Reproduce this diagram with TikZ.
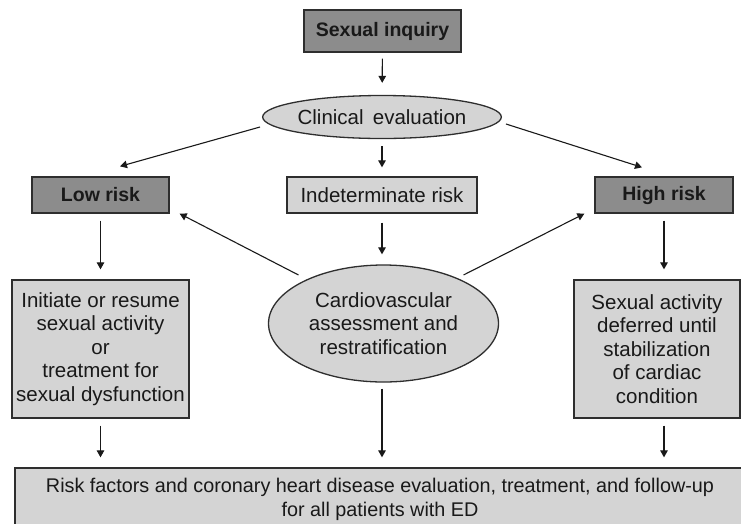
\documentclass[tikz,border=0pt]{standalone}
\usepackage{fontspec}
\setmainfont{Liberation Sans}
\usetikzlibrary{shapes.geometric,arrows.meta}
\definecolor{darkbox}{HTML}{8C8C8C}
\definecolor{lightbox}{HTML}{D4D4D4}
\definecolor{edgecol}{HTML}{2E2E2E}
\tikzset{
  base/.style={draw=edgecol, line width=1.3pt, inner sep=0pt, align=center,
    font=\fontsize{20.5}{23.4}\selectfont, text=black!90},
  darkrect/.style={base, rectangle, fill=darkbox, font=\bfseries\fontsize{19.5}{23}\selectfont},
  lightrect/.style={base, rectangle, fill=lightbox},
  lightell/.style={base, ellipse, fill=lightbox},
  arr/.style={draw=black!90, line width=1.1pt, -{Triangle[length=7pt,width=7.5pt]}},
}
\begin{document}
\begin{tikzpicture}[x=1pt,y=-1pt]
\clip (0,0) rectangle (741,523);
\node[darkrect, minimum width=157pt, minimum height=42pt] (inq) at (382.5,31) {Sexual inquiry};
\node[lightell, minimum width=216pt, minimum height=43pt] (clin) at (382,117) {Clinical\hspace{0.45em}evaluation};
\node[darkrect, minimum width=137pt, minimum height=36pt] (low) at (100.5,195) {Low risk};
\node[lightrect, minimum width=190pt, minimum height=36pt] (ind) at (382,195) {Indeterminate risk};
\node[darkrect, minimum width=138pt, minimum height=36pt] (high) at (664,195) {High risk};
\node[lightrect, minimum width=177pt, minimum height=138pt] (lbox) at (100.5,349) {Initiate or resume\\sexual activity\\or\\treatment for\\sexual dysfunction};
\node[lightell, minimum width=230pt, minimum height=117pt] (cv) at (383.5,323.5) {Cardiovascular\\assessment and\\restratification};
\node[lightrect, minimum width=166pt, minimum height=138pt] (rbox) at (657,349) {Sexual activity\\deferred until\\stabilization\\of cardiac\\condition};
\node[lightrect, minimum width=730pt, minimum height=63pt, font=\fontsize{19.8}{23.6}\selectfont] (bot) at (380,499.5) {Risk factors and coronary heart disease evaluation, treatment, and follow-up\\for all patients with ED};

\draw[arr, shorten <=6pt, shorten >=12pt] (inq) -- (clin);
\draw[arr] ([shift={(-2pt,-10pt)}]clin.west) -- ([shift={(19.5pt,10pt)}]low.north);
\draw[arr] ([shift={(4pt,-7pt)}]clin.east) -- ([shift={(-22pt,9pt)}]high.north);
\draw[arr, shorten <=7pt, shorten >=9pt] (clin) -- (ind);
\draw[arr, shorten <=7pt, shorten >=10pt] (low) -- (lbox);
\draw[arr, shorten <=7pt, shorten >=10pt] (high.south) -- (high.south |- rbox.north);
\draw[arr, shorten <=9pt, shorten >=10pt] (ind.south) -- (ind.south |- cv.north);
\draw[arr] ([shift={(-85pt,48.5pt)}]cv.center) -- ([xshift=10pt]low.south east);
\draw[arr] ([shift={(80pt,48.5pt)}]cv.center) -- ([xshift=-10pt]high.south west);
\draw[arr, shorten <=7pt, shorten >=10pt] (lbox.south) -- (lbox.south |- bot.north);
\draw[arr, shorten <=6pt, shorten >=10pt] ([xshift=-1.5pt]cv.south) -- ([xshift=-1.5pt]cv.south |- bot.north);
\draw[arr, shorten <=7pt, shorten >=10pt] (high.south |- rbox.south) -- (high.south |- bot.north);
\end{tikzpicture}
\end{document}
